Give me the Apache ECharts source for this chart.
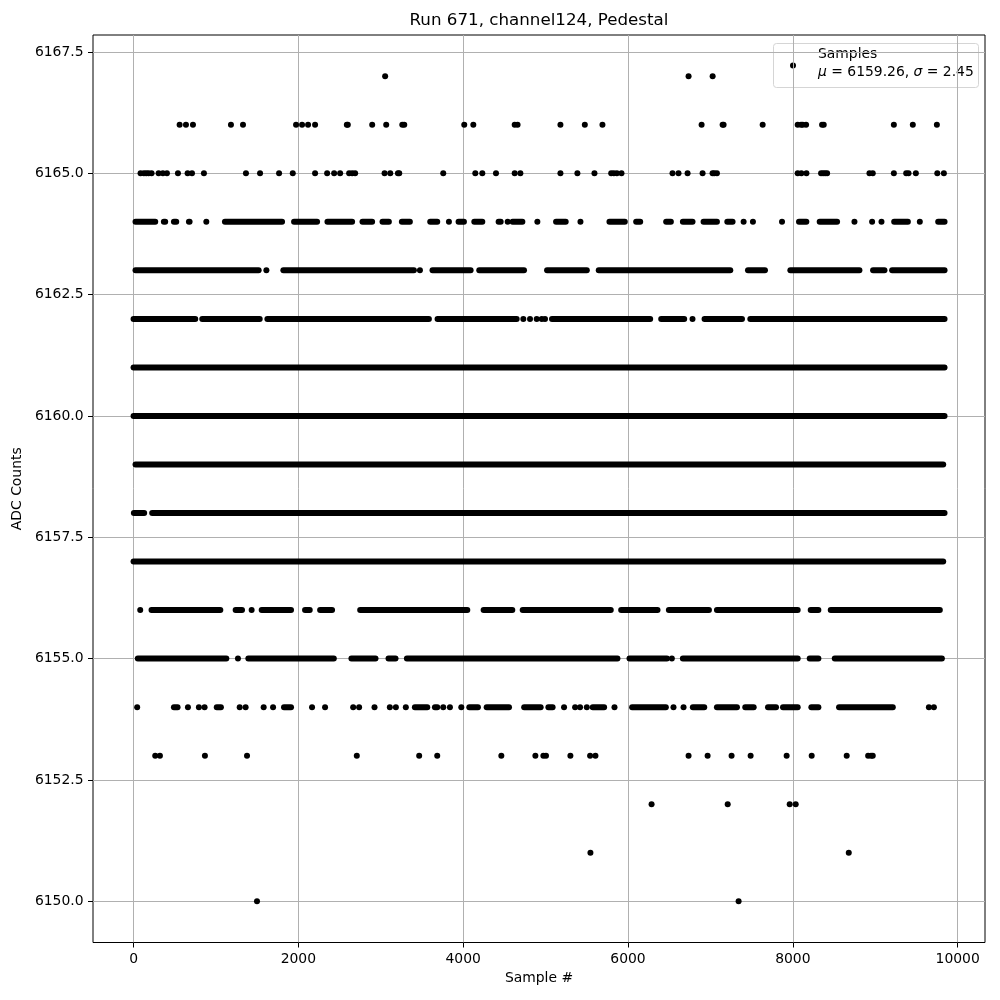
<!DOCTYPE html>
<html><head><meta charset="utf-8">
<script src="https://cdn.jsdelivr.net/npm/echarts@6/dist/echarts.min.js"></script>
<style>html,body{margin:0;padding:0;background:#fff}#c{width:1000px;height:1000px}</style>
</head><body><div id="c"></div>
<script>
const chartTitle = 'Run 671, channel124, Pedestal';
const xName = 'Sample #';
const yName = 'ADC Counts';
const xTicks = [0, 2000, 4000, 6000, 8000, 10000];
const yTicks = [6150, 6152.5, 6155, 6157.5, 6160, 6162.5, 6165, 6167.5];
const seriesName = 'Samples';
const meanValue = 6159.26;
const sigmaValue = 2.45;

// single samples (x positions) per ADC level
const pts6167 = [3053, 6735, 7027];
const pts6166 = [559, 636, 721, 1182, 1328, 1972, 2045, 2118, 2203, 2588, 2600, 2896, 3066, 3261, 3285, 4013, 4123, 4625, 4660, 5180, 5476, 5690, 6893, 7148, 7160, 7634, 8059, 8100, 8120, 8161, 8355, 8375, 9226, 9456, 9748];
const pts6165 = [85, 125, 154, 182, 219, 304, 356, 405, 539, 656, 709, 854, 1364, 1535, 1766, 1932, 2203, 2349, 2434, 2507, 2616, 2653, 2689, 3046, 3115, 3208, 3224, 3758, 4147, 4232, 4398, 4625, 4694, 5180, 5386, 5593, 5796, 5828, 5865, 5921, 6540, 6613, 6723, 6905, 7026, 7047, 7079, 8059, 8104, 8165, 8343, 8368, 8392, 8416, 8930, 8970, 9226, 9376, 9404, 9493, 9753, 9833];
const pts6153 = [263, 320, 866, 1377, 2709, 3466, 3685, 4463, 4876, 4973, 5005, 5301, 5540, 5605, 6735, 6966, 7257, 7488, 7925, 8229, 8654, 8914, 8950, 8970];
const pts6152 = [6286, 7210, 7962, 8035];
const pts6151 = [5544, 8679];
const pts6150 = [1498, 7342];

// runs of consecutive samples [first, last] per ADC level
const runs6164 = [[24,263],[368,384],[490,518],[672,680],[883,883],[1109,1802],[1948,2227],[2353,2652],[2778,2895],[3021,3098],[3256,3353],[3600,3685],[3827,3827],[3944,4009],[4135,4232],[4430,4455],[4540,4540],[4600,4718],[4900,4900],[5127,5244],[5423,5423],[5775,5961],[6099,6148],[6463,6520],[6666,6783],[6917,7079],[7205,7269],[7403,7403],[7516,7516],[7869,7869],[8075,8164],[8326,8537],[8748,8748],[8962,8962],[9076,9076],[9230,9396],[9541,9541],[9764,9841]];
const runs6163 = [[24,1518],[1612,1612],[1818,3402],[3475,3475],[3628,4090],[4195,4738],[5018,5500],[5645,7241],[7456,7662],[7970,8808],[8974,9112],[9205,9841]];
const runs6162 = [[0,749],[834,1531],[1624,3584],[3689,4649],[4730,4730],[4811,4811],[4892,4892],[4953,4953],[4993,4993],[5078,6269],[6403,6682],[6783,6783],[6929,7383],[7484,9841]];
const runs6161 = [[0,9841]];
const runs6160 = [[0,9841]];
const runs6159 = [[24,9825]];
const runs6158 = [[4,129],[226,9841]];
const runs6157 = [[0,9825]];
const runs6156 = [[81,81],[218,1053],[1239,1316],[1433,1433],[1555,1911],[2081,2138],[2264,2409],[2750,4050],[4248,4596],[4722,5791],[5917,6358],[6496,6982],[7079,8059],[8217,8310],[8460,9784]];
const runs6155 = [[52,1126],[1267,1267],[1393,2430],[2644,2936],[3094,3179],[3317,5872],[6018,6472],[6532,6532],[6666,8059],[8205,8310],[8509,9809]];
const runs6154 = [[44,44],[490,534],[660,660],[793,793],[862,862],[1010,1060],[1288,1288],[1360,1360],[1579,1579],[1693,1693],[1826,1911],[2166,2166],[2324,2324],[2665,2665],[2737,2737],[2924,2924],[3110,3110],[3183,3183],[3304,3304],[3414,3564],[3657,3685],[3758,3758],[3839,3839],[3977,3977],[4074,4179],[4285,4556],[4740,4940],[5034,5085],[5224,5224],[5358,5358],[5418,5418],[5500,5500],[5572,5710],[5836,5836],[6050,6459],[6552,6552],[6674,6674],[6787,6925],[7079,7322],[7423,7525],[7699,7796],[7881,8059],[8225,8310],[8561,9213],[9651,9651],[9712,9712]];

const pointRows = [[6167, pts6167],[6166, pts6166],[6165, pts6165],[6153, pts6153],[6152, pts6152],[6151, pts6151],[6150, pts6150]];
const runRows = [[6164, runs6164],[6163, runs6163],[6162, runs6162],[6161, runs6161],[6160, runs6160],[6159, runs6159],[6158, runs6158],[6157, runs6157],[6156, runs6156],[6155, runs6155],[6154, runs6154]];

const data = [];
pointRows.forEach(([lvl, xs]) => xs.forEach(x => data.push([x, x, lvl])));
runRows.forEach(([lvl, rs]) => rs.forEach(([a, b]) => data.push([a, b, lvl])));

const FONT = 'DejaVu Sans';
const R = 3;
function renderItem(params, api) {
  const y = api.value(2);
  const p1 = api.coord([api.value(0), y]);
  const p2 = api.coord([api.value(1), y]);
  return {
    type: 'rect',
    shape: { x: p1[0] - R, y: p1[1] - R, width: p2[0] - p1[0] + 2 * R, height: 2 * R, r: R },
    style: { fill: '#000' }
  };
}

const txt = { fontFamily: FONT, fontSize: 13.9, fill: '#000' };
const chart = echarts.init(document.getElementById('c'), null, { renderer: 'canvas' });
chart.setOption({
  animation: false,
  backgroundColor: '#fff',
  title: {
    text: chartTitle, left: 539, top: 12, textAlign: 'center', padding: 0,
    textStyle: { fontFamily: FONT, fontSize: 16.7, fontWeight: 'normal', color: '#000' }
  },
  graphic: [{
    type: 'group', left: 773, top: 43, z: 100,
    children: [
      { type: 'rect', shape: { x: 0, y: 0, width: 205, height: 44, r: 3 },
        style: { fill: 'rgba(255,255,255,0.8)', stroke: '#d5d5d5', lineWidth: 1 } },
      { type: 'circle', shape: { cx: 19.5, cy: 22, r: R }, style: { fill: '#000' } },
      { type: 'text', x: 44.5, y: 11, style: Object.assign({ text: seriesName, verticalAlign: 'middle' }, txt) },
      { type: 'text', x: 44.5, y: 28.7, style: Object.assign({
          text: '{i|μ} = ' + meanValue.toFixed(2) + ', {i|σ} = ' + sigmaValue.toFixed(2),
          verticalAlign: 'middle',
          rich: { i: { fontFamily: FONT, fontSize: 13.9, fontStyle: 'italic', fill: '#000' } }
        }, txt) }
    ]
  }],
  grid: { left: 93, right: 15, top: 35, bottom: 57.5, show: true, borderColor: '#000', borderWidth: 1, backgroundColor: 'transparent' },
  xAxis: {
    type: 'value', min: -492, max: 10332,
    name: xName, nameLocation: 'middle', nameGap: 28,
    nameTextStyle: { fontFamily: FONT, fontSize: 13.9, color: '#000' },
    axisLine: { show: false, onZero: false },
    axisTick: { show: true, inside: false, length: 5, customValues: xTicks, lineStyle: { color: '#000', width: 1 } },
    axisLabel: { customValues: xTicks, margin: 9.5, fontFamily: FONT, fontSize: 13.9, color: '#000', formatter: v => String(v) },
    splitLine: { show: true, lineStyle: { color: '#b0b0b0', width: 1 } }
  },
  yAxis: {
    type: 'value', min: 6149.15, max: 6167.85,
    name: yName, nameLocation: 'middle', nameGap: 63,
    nameTextStyle: { fontFamily: FONT, fontSize: 13.9, color: '#000' },
    axisLine: { show: false, onZero: false },
    axisTick: { show: true, inside: false, length: 5, customValues: yTicks, lineStyle: { color: '#000', width: 1 } },
    axisLabel: { customValues: yTicks, margin: 9.5, fontFamily: FONT, fontSize: 13.9, color: '#000', formatter: v => v.toFixed(1) },
    splitLine: { show: true, lineStyle: { color: '#b0b0b0', width: 1 } }
  },
  series: [{
    name: seriesName, type: 'custom', renderItem: renderItem,
    itemStyle: { color: '#000' },
    encode: { x: [0, 1], y: 2 },
    clip: true,
    data: data
  }]
});
</script></body></html>
